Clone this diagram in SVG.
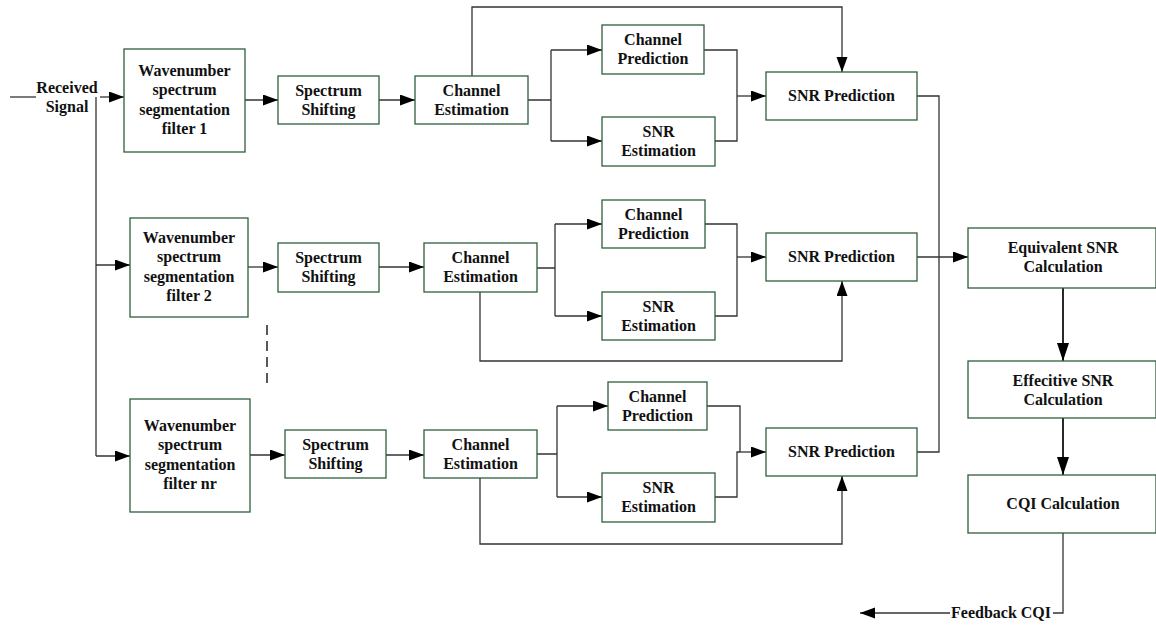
<svg xmlns="http://www.w3.org/2000/svg" width="1156" height="626" viewBox="0 0 1156 626">
<defs>
<marker id="ah" markerUnits="userSpaceOnUse" markerWidth="16" markerHeight="12" refX="15" refY="5.5" orient="auto">
<path d="M0,0 L15,5.5 L0,11 z" fill="#000"/>
</marker>
<marker id="ahb" markerUnits="userSpaceOnUse" markerWidth="19" markerHeight="13" refX="18" refY="6" orient="auto">
<path d="M0,0 L18,6 L0,12 z" fill="#000"/>
</marker>
<style>
.box{fill:#fff;stroke:#2f5f3c;stroke-width:1.3}
.t{font-family:"Liberation Serif","Times New Roman",serif;font-weight:bold;font-size:16px;fill:#111;text-anchor:middle}
.c{fill:none;stroke:#333;stroke-width:1.3}
.a{fill:none;stroke:#333;stroke-width:1.3;marker-end:url(#ah)}
.ab{fill:none;stroke:#111;stroke-width:1.8;marker-end:url(#ahb)}
.d{fill:none;stroke:#000;stroke-width:1.3;stroke-dasharray:10,6}
</style>
</defs>
<rect width="1156" height="626" fill="#fff"/>

<g id="connectors">
<!-- input -->
<path class="c" d="M10,97 H36"/>
<path class="c" d="M96,97 V456"/>
<path class="a" d="M100,97 H124"/>
<path class="a" d="M96,265 H130"/>
<path class="a" d="M96,456 H130"/>
<!-- row 1 -->
<path class="a" d="M245,100 H278"/>
<path class="a" d="M379,100 H415"/>
<path class="c" d="M528,100 H551 M551,50 V141"/>
<path class="a" d="M551,50 H602"/>
<path class="a" d="M551,141 H602"/>
<path class="c" d="M704,50 H737 V141 H715"/>
<path class="a" d="M737,96 H766"/>
<path class="a" d="M472,76 V7 H842 V72"/>
<path class="c" d="M917,96 H939 V452 H917"/>
<!-- row 2 -->
<path class="a" d="M248,267 H278"/>
<path class="a" d="M379,267 H424"/>
<path class="c" d="M537,268 H555 M555,224 V316"/>
<path class="a" d="M555,224 H602"/>
<path class="a" d="M555,316 H602"/>
<path class="c" d="M705,224 H737 V316 H715"/>
<path class="a" d="M737,257 H766"/>
<path class="a" d="M480,292 V361 H842 V281"/>
<path class="a" d="M917,257 H968"/>
<!-- row 3 -->
<path class="a" d="M250,455 H285"/>
<path class="a" d="M386,455 H424"/>
<path class="c" d="M537,454 H557 M557,406 V497"/>
<path class="a" d="M557,406 H608"/>
<path class="a" d="M557,497 H602"/>
<path class="c" d="M707,406 H740 V452 M715,497 H737 V452 H740"/>
<path class="a" d="M740,452 H766"/>
<path class="a" d="M480,478 V544 H842 V476"/>
<!-- right column -->
<path class="ab" d="M1063,288 V361"/>
<path class="ab" d="M1063,418 V475"/>
<path class="c" d="M1063,533 V613 H1053"/>
<path class="a" d="M950,613 H860"/>
<!-- dashed ellipsis -->
<path class="d" d="M267,325 V385"/>
</g>

<g id="received-signal">
<text class="t" x="67" y="93">Received</text>
<text class="t" x="67" y="112">Signal</text>
</g>

<g id="filter1">
<rect class="box" x="124" y="49" width="121" height="103"/>
<text class="t" x="184.5" y="76">Wavenumber</text>
<text class="t" x="184.5" y="95">spectrum</text>
<text class="t" x="184.5" y="114.5">segmentation</text>
<text class="t" x="184.5" y="134">filter 1</text>
</g>
<g id="shift1">
<rect class="box" x="278" y="76" width="101" height="48"/>
<text class="t" x="328.5" y="96">Spectrum</text>
<text class="t" x="328.5" y="115">Shifting</text>
</g>
<g id="ce1">
<rect class="box" x="415" y="76" width="113" height="48"/>
<text class="t" x="471.5" y="96">Channel</text>
<text class="t" x="471.5" y="114.5">Estimation</text>
</g>
<g id="cp1">
<rect class="box" x="602" y="25" width="102" height="49"/>
<text class="t" x="653" y="45">Channel</text>
<text class="t" x="653" y="64">Prediction</text>
</g>
<g id="se1">
<rect class="box" x="602" y="117" width="113" height="49"/>
<text class="t" x="658.5" y="137">SNR</text>
<text class="t" x="658.5" y="156">Estimation</text>
</g>
<g id="sp1">
<rect class="box" x="766" y="72" width="151" height="48"/>
<text class="t" x="841.5" y="101">SNR Prediction</text>
</g>

<g id="filter2">
<rect class="box" x="130" y="218" width="118" height="99"/>
<text class="t" x="189" y="243">Wavenumber</text>
<text class="t" x="189" y="262">spectrum</text>
<text class="t" x="189" y="281.5">segmentation</text>
<text class="t" x="189" y="301">filter 2</text>
</g>
<g id="shift2">
<rect class="box" x="278" y="243" width="101" height="49"/>
<text class="t" x="328.5" y="263">Spectrum</text>
<text class="t" x="328.5" y="282">Shifting</text>
</g>
<g id="ce2">
<rect class="box" x="424" y="243" width="113" height="49"/>
<text class="t" x="480.5" y="263">Channel</text>
<text class="t" x="480.5" y="282">Estimation</text>
</g>
<g id="cp2">
<rect class="box" x="602" y="200" width="103" height="48"/>
<text class="t" x="653.5" y="220">Channel</text>
<text class="t" x="653.5" y="239">Prediction</text>
</g>
<g id="se2">
<rect class="box" x="602" y="292" width="113" height="48"/>
<text class="t" x="658.5" y="312">SNR</text>
<text class="t" x="658.5" y="331">Estimation</text>
</g>
<g id="sp2">
<rect class="box" x="766" y="233" width="151" height="48"/>
<text class="t" x="841.5" y="262">SNR Prediction</text>
</g>

<g id="filter3">
<rect class="box" x="130" y="399" width="120" height="113"/>
<text class="t" x="190" y="431">Wavenumber</text>
<text class="t" x="190" y="450">spectrum</text>
<text class="t" x="190" y="469.5">segmentation</text>
<text class="t" x="190" y="489">filter nr</text>
</g>
<g id="shift3">
<rect class="box" x="285" y="430" width="101" height="48"/>
<text class="t" x="335.5" y="450">Spectrum</text>
<text class="t" x="335.5" y="469">Shifting</text>
</g>
<g id="ce3">
<rect class="box" x="424" y="430" width="113" height="48"/>
<text class="t" x="480.5" y="450">Channel</text>
<text class="t" x="480.5" y="469">Estimation</text>
</g>
<g id="cp3">
<rect class="box" x="608" y="382" width="99" height="48"/>
<text class="t" x="657.5" y="402">Channel</text>
<text class="t" x="657.5" y="421">Prediction</text>
</g>
<g id="se3">
<rect class="box" x="602" y="473" width="113" height="49"/>
<text class="t" x="658.5" y="493">SNR</text>
<text class="t" x="658.5" y="512">Estimation</text>
</g>
<g id="sp3">
<rect class="box" x="766" y="428" width="151" height="48"/>
<text class="t" x="841.5" y="457">SNR Prediction</text>
</g>

<g id="equivalent">
<rect class="box" x="968" y="228" width="188" height="60"/>
<text class="t" x="1063" y="253">Equivalent SNR</text>
<text class="t" x="1063" y="272">Calculation</text>
</g>
<g id="effective">
<rect class="box" x="968" y="361" width="188" height="57"/>
<text class="t" x="1063" y="386">Effecitive SNR</text>
<text class="t" x="1063" y="405">Calculation</text>
</g>
<g id="cqi">
<rect class="box" x="968" y="475" width="188" height="58"/>
<text class="t" x="1063" y="509">CQI Calculation</text>
</g>
<g id="feedback">
<text class="t" x="1001" y="618">Feedback CQI</text>
</g>
</svg>
